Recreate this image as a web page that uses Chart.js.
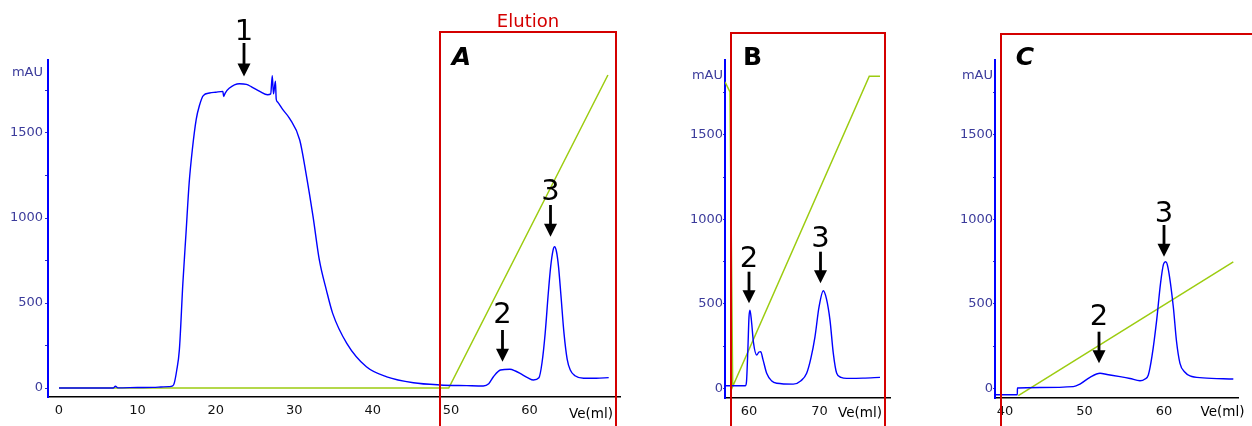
<!DOCTYPE html>
<html><head><meta charset="utf-8">
<script src="https://cdn.jsdelivr.net/npm/chart.js@4.4.0/dist/chart.umd.min.js"></script>
<style>
html,body{margin:0;padding:0;background:#fff;width:1252px;height:426px;overflow:hidden;position:relative}
canvas{position:absolute;top:0}
#c1{left:0}
#c2{left:650px}
#c3{left:940px}
.box{position:absolute;border:2px solid #d40000;box-sizing:border-box;height:440px}
svg{position:absolute;left:0;top:0}
</style></head><body>
<canvas id="c1" width="640" height="426"></canvas>
<canvas id="c2" width="250" height="426"></canvas>
<canvas id="c3" width="312" height="426"></canvas>
<div class="box" style="left:439px;top:31px;width:178px"></div>
<div class="box" style="left:730px;top:32px;width:156px"></div>
<div class="box" style="left:1000px;top:33px;width:300px"></div>
<svg width="1252" height="426" xmlns="http://www.w3.org/2000/svg" id="ann"></svg>
<script>
// ---- Panel A (full run) ----
const aX  = [0, 5, 6.9, 7.2, 7.5, 10, 12, 13, 14, 14.5, 14.7, 15.0, 15.35, 15.8, 16.2, 16.6, 17.0, 17.5, 17.9, 18.4, 19.2, 20.0, 20.9, 21.0, 21.2, 21.7, 23.0, 23.9, 24.5, 25.6, 26.6, 27.0, 27.2, 27.35, 27.6, 27.7, 27.85, 28.5, 29.4, 30.7, 31.5, 32.4, 33.2, 34.1, 34.9, 36.7, 39.2, 41.8, 45.2, 48.6, 52.0, 54.1, 54.8, 55.4, 56.3, 57.5, 58.2, 58.8, 59.8, 60.5, 61.2, 61.6, 62.0, 62.4, 62.7, 63.0, 63.2, 63.45, 63.7, 64.0, 64.4, 64.8, 65.2, 65.8, 66.9, 68.5, 70.1];
const aUV = [0, 0, 0, 10, 1, 3, 4, 6, 8, 12, 29, 100, 224, 618, 912, 1206, 1400, 1580, 1660, 1720, 1735, 1740, 1745, 1715, 1735, 1763, 1790, 1786, 1773, 1745, 1725, 1730, 1837, 1730, 1804, 1700, 1684, 1640, 1586, 1459, 1263, 1008, 753, 576, 439, 263, 125, 66, 31, 18, 14, 12, 25, 66, 106, 110, 100, 86, 60, 47, 60, 150, 323, 560, 714, 810, 831, 800, 714, 550, 321, 170, 106, 72, 57, 57, 61];
const aGradX = [0, 49.7, 70.0];
const aGrad  = [0, 0, 1841];
const aXTicks = [0, 10, 20, 30, 40, 50, 60];

// ---- Panel B ----
const bX  = [56.6, 59.5, 59.65, 59.86, 60.0, 60.14, 60.35, 60.64, 61.09, 61.42, 61.66, 61.99, 62.51, 63.19, 63.93, 66.28, 67.38, 68.18, 68.79, 69.36, 69.93, 70.54, 70.99, 71.49, 71.96, 72.44, 73.05, 73.86, 76.17, 78.58];
const bUV = [15, 15, 40, 250, 420, 463, 400, 270, 197, 215, 217, 170, 89, 45, 30, 25, 45, 89, 180, 305, 480, 578, 530, 404, 207, 89, 65, 59, 60, 65];
const bGradX = [56.6, 57.3, 57.69, 77.06, 78.58];
const bGrad  = [1814, 1755, 10, 1848, 1848];
const bXTicks = [60, 70];

// ---- Panel C ----
const cX  = [38.74, 41.55, 41.56, 44.4, 48.59, 49.43, 50.69, 51.95, 52.83, 54.47, 55.72, 56.98, 57.61, 58.03, 58.49, 59.08, 59.56, 59.94, 60.21, 60.5, 61.17, 61.57, 62.01, 62.64, 63.27, 64.91, 68.72];
const cUV = [-38, -38, 2, 5, 10, 25, 65, 89, 82, 69, 58, 45, 55, 79, 190, 404, 620, 735, 749, 715, 483, 280, 148, 95, 73, 62, 55];
const cGradX = [41.67, 68.72];
const cGrad  = [-44, 749];
const cXTicks = [40, 50, 60];

// ---- shared y ticks ----
const yTicks = [0, 250, 500, 750, 1000, 1250, 1500, 1750];
const yLabels = [0, 500, 1000, 1500];
const unitPos = 1853;
const unitLabel = 'mAU';

function pts(xs, ys){ return xs.map((x,i)=>({x:x, y:ys[i]})); }

function makeChart(id, cfg){
  return new Chart(document.getElementById(id), {
    type:'line',
    data:{datasets:[
      {data:pts(cfg.gx,cfg.gy), borderColor:'#9ccc10', borderWidth:1.5, pointRadius:0, tension:0, order:2},
      {data:pts(cfg.x,cfg.y), borderColor:'#0000ff', borderWidth:1.4, pointRadius:0, cubicInterpolationMode:'monotone', order:1}
    ]},
    options:{
      responsive:false, animation:false, events:[],
      layout:{padding:{left:0,top:60,right:cfg.padR,bottom:0}},
      plugins:{legend:{display:false},tooltip:{enabled:false}},
      scales:{
        x:{type:'linear', min:cfg.xmin, max:cfg.xmax,
          afterBuildTicks:s=>{s.ticks=cfg.xt.map(v=>({value:v}));},
          afterFit:s=>{s.height=cfg.xh;},
          grid:{display:false, drawTicks:false},
          border:{display:true,color:'#000',width:1.5},
          ticks:{autoSkip:false,maxRotation:0,minRotation:0,padding:6,color:'#111',font:{family:'DejaVu Sans',size:13}}},
        y:{type:'linear', min:cfg.ymin, max:cfg.ymax,
          afterBuildTicks:s=>{s.ticks=yTicks.concat([unitPos]).map(v=>({value:v}));},
          afterFit:s=>{s.width=cfg.yw;},
          grid:{display:true, drawOnChartArea:false, drawTicks:true, tickLength:cfg.tl,
                tickColor:ctx=>(ctx.tick && ctx.tick.value===unitPos)?'rgba(0,0,0,0)':'#3030c0', lineWidth:1},
          border:{display:true,color:'#0000ff',width:2},
          ticks:{autoSkip:false,padding:cfg.tp,color:'#3b3b9b',font:{family:'DejaVu Sans',size:13},
                 callback:v=> v===unitPos?unitLabel:(yLabels.includes(v)?String(v):'')}}
      }
    }
  });
}

makeChart('c1',{x:aX,y:aUV,gx:aGradX,gy:aGrad,xt:aXTicks,xmin:-1.40,xmax:71.54,ymin:-52.9,ymax:1929.4,padR:20,yw:48,xh:29,tl:3,tp:2});
makeChart('c2',{x:bX,y:bUV,gx:bGradX,gy:bGrad,xt:bXTicks,xmin:56.6,xmax:80.0,ymin:-57.4,ymax:1943.8,padR:10,yw:75,xh:28,tl:2,tp:0});
makeChart('c3',{x:cX,y:cUV,gx:cGradX,gy:cGrad,xt:cXTicks,xmin:38.74,xmax:69.31,ymin:-57.4,ymax:1943.8,padR:14,yw:55,xh:28,tl:2,tp:0});

// ---- annotations ----
const NS='http://www.w3.org/2000/svg';
const svg=document.getElementById('ann');
function txt(s,x,y,size,opts){
  const t=document.createElementNS(NS,'text');
  t.setAttribute('x',x);t.setAttribute('y',y);
  t.setAttribute('font-family',"'Comic Sans MS','DejaVu Sans',sans-serif");
  t.setAttribute('font-size',size);
  t.setAttribute('text-anchor',(opts&&opts.anchor)||'middle');
  t.setAttribute('fill',(opts&&opts.color)||'#000');
  if(opts&&opts.weight)t.setAttribute('font-weight',opts.weight);
  if(opts&&opts.italic)t.setAttribute('font-style','italic');
  t.textContent=s;svg.appendChild(t);
}
function arrow(x,y1,tip){
  const l=document.createElementNS(NS,'line');
  l.setAttribute('x1',x);l.setAttribute('x2',x);l.setAttribute('y1',y1);l.setAttribute('y2',tip-12);
  l.setAttribute('stroke','#000');l.setAttribute('stroke-width',2.8);svg.appendChild(l);
  const p=document.createElementNS(NS,'polygon');
  p.setAttribute('points',`${x-6.5},${tip-13} ${x+6.5},${tip-13} ${x},${tip}`);
  p.setAttribute('fill','#000');svg.appendChild(p);
}
const peakNotes=[
  ['1',244,40,43,76.5],
  ['2',502.5,323.3,330,361.7],
  ['3',550.5,200,205,236.7],
  ['2',749,267,271.7,303.3],
  ['3',820.5,246.7,251.7,283.3],
  ['2',1099,325,331.7,363.3],
  ['3',1164,221.7,225,256.7]
];
peakNotes.forEach(n=>{txt(n[0],n[1],n[2],29);arrow(n[1],n[3],n[4]);});
txt('Elution',528,26.5,18,{color:'#d40000'});
txt('A',461.5,65,25,{weight:'bold',italic:true});
txt('B',752.5,65,25,{weight:'bold'});
txt('C',1025,65,25,{weight:'bold',italic:true});
txt('Ve(ml)',591,418,13.5);
txt('Ve(ml)',860,417,13.5);
txt('Ve(ml)',1222.5,416,13.5);
</script>
</body></html>
